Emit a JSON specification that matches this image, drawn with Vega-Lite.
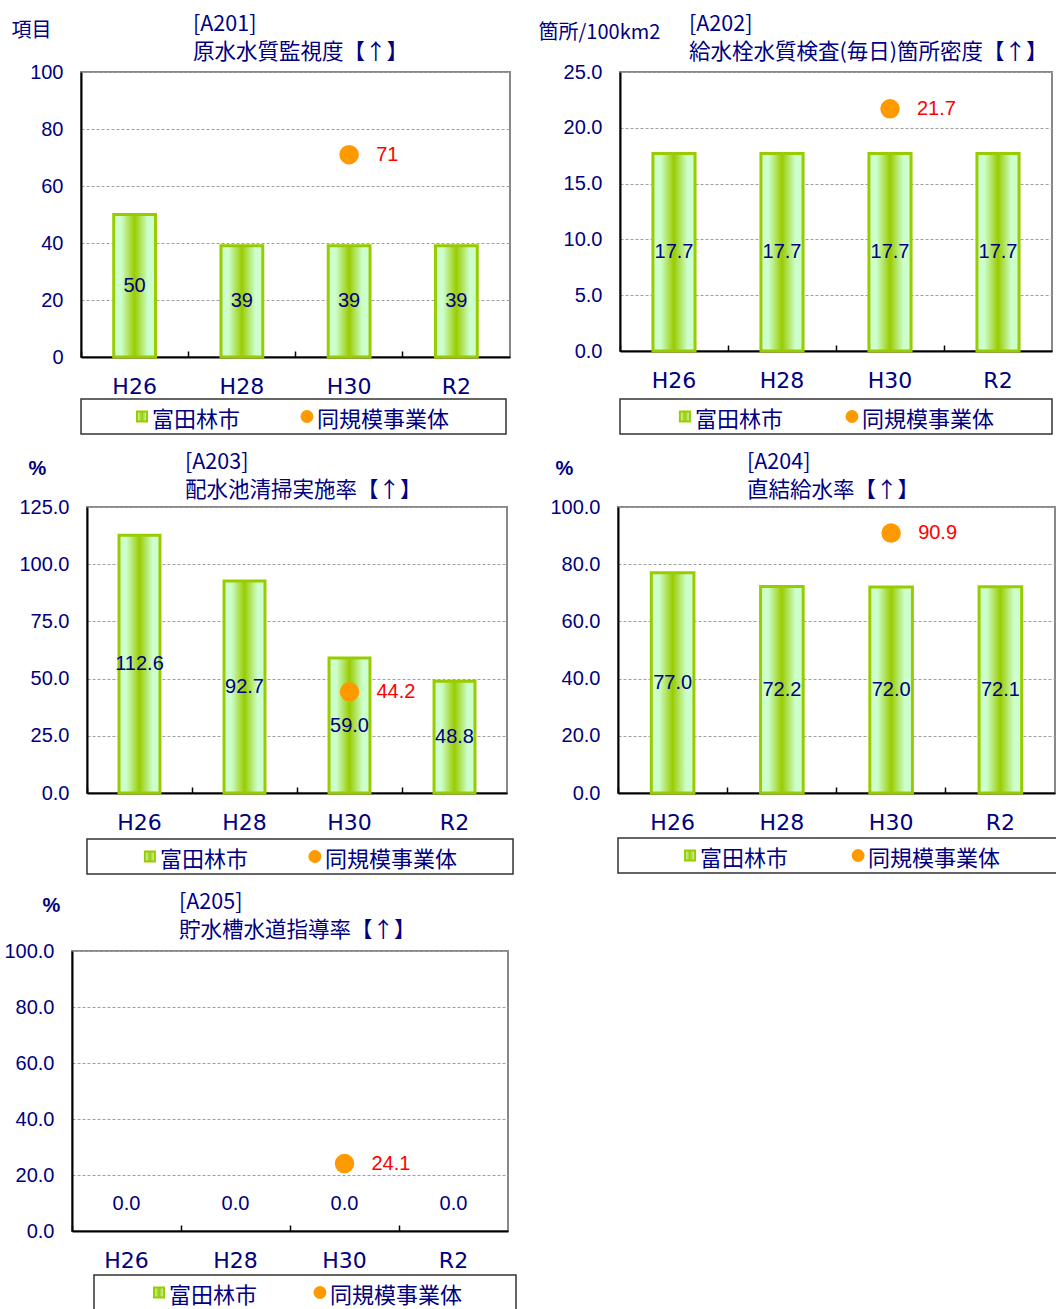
{
"$schema": "https://vega.github.io/schema/vega-lite/v6.json",
"background": "white",
"padding": {"left": 0, "top": 12, "right": 0, "bottom": 0},
"spacing": 15,
"config": {
  "view": {"stroke": "#888888", "strokeWidth": 2},
  "title": {"font": "Noto Sans CJK JP", "fontSize": 21.5, "fontWeight": "normal", "color": "#000080", "lineHeight": 28, "anchor": "start", "frame": "group"},
  "axisX": {"labelAngle": 0, "labelFont": "DejaVu Sans", "labelFontSize": 22, "labelColor": "#000080", "labelPadding": 25, "bandPosition": -0.782, "tickSize": -6, "tickColor": "#000000", "tickWidth": 1.5, "domainColor": "#000000", "domainWidth": 2, "grid": false, "titleOpacity": 0, "titleAlign": "left", "titleBaseline": "bottom", "titleFontSize": 8},
  "axisY": {"labelFont": "Liberation Sans", "labelFontSize": 20, "labelColor": "#000080", "labelPadding": 18, "ticks": false, "domainColor": "#000000", "domainWidth": 2, "grid": true, "gridColor": "#a0a0a0", "gridDash": [3, 2], "gridWidth": 1, "titleAngle": 0, "titleAlign": "left", "titleBaseline": "top", "titleFontSize": 20, "titleColor": "#000080", "titleFont": "Noto Sans CJK JP", "titleFontWeight": "normal"}
},
"vconcat": [
 {"hconcat": [
  {"width": 1, "height": 1, "data": {"values": []}, "mark": "point", "view": {"stroke": null, "fill": null}},
  {"vconcat": [
   {"width": 429, "height": 285,
    "title": {"text": ["[A201]", "原水水質監視度【↑】"], "dx": 112, "offset": -43},
    "data": {"values": [
      {"yr": "H26", "s": "富田林市", "v": 50},
      {"yr": "H28", "s": "富田林市", "v": 39},
      {"yr": "H30", "s": "富田林市", "v": 39},
      {"yr": "R2", "s": "富田林市", "v": 39},
      {"yr": "H30", "s": "同規模事業体", "v": 71}
    ]},
    "encoding": {
      "x": {"field": "yr", "type": "nominal", "scale": {"type": "band", "domain": ["H26", "H28", "H30", "R2"], "paddingInner": 0.61}, "axis": {"title": ".", "titleX": -79, "titleY": -40, "bandPosition": -0.782}},
      "y": {"field": "v", "type": "quantitative", "scale": {"domain": [0, 100], "nice": false}, "axis": {"title": "項目", "titleX": -70, "titleY": -52, "values": [0, 20, 40, 60, 80, 100], "format": "d"}}
    },
    "layer": [
      {"transform": [{"filter": "datum.s == '富田林市'"}], "mark": {"type": "bar", "stroke": "#99cc00", "strokeWidth": 3, "fill": {"gradient": "linear", "x1": 0, "x2": 1, "y1": 0, "y2": 0, "stops": [{"offset": 0, "color": "#ccffcc"}, {"offset": 0.18, "color": "#ccffcc"}, {"offset": 0.5, "color": "#99cc00"}, {"offset": 0.82, "color": "#ccffcc"}, {"offset": 1, "color": "#ccffcc"}]}}},
      {"transform": [{"filter": "datum.s == '富田林市'"}, {"calculate": "datum.v/2", "as": "mid"}], "mark": {"type": "text", "baseline": "middle", "font": "Liberation Sans", "fontSize": 20, "color": "#000080"}, "encoding": {"y": {"field": "mid", "type": "quantitative", "axis": {"title": "項目", "titleX": -70, "titleY": -52, "values": [0, 20, 40, 60, 80, 100], "format": "d"}}, "text": {"field": "v", "type": "quantitative", "format": "d"}}},
      {"transform": [{"filter": "datum.s == '同規模事業体'"}], "mark": {"type": "point", "filled": true, "size": 380, "color": "#ff9900", "opacity": 1}},
      {"transform": [{"filter": "datum.s == '同規模事業体'"}], "mark": {"type": "text", "align": "left", "dx": 27, "baseline": "middle", "font": "Liberation Sans", "fontSize": 20, "color": "#ff0000"}, "encoding": {"text": {"field": "v", "type": "quantitative", "format": "d"}}}
    ]
   },
   {"width": 425, "height": 35,
    "view": {"stroke": "#333333", "strokeWidth": 1.5},
    "data": {"values": [{"s": "富田林市"}, {"s": "同規模事業体"}]},
    "encoding": {"x": {"field": "s", "type": "nominal", "scale": {"type": "point", "domain": ["富田林市", "同規模事業体"], "padding": 0.788, "align": 0.2346}, "axis": null}},
    "layer": [
      {"transform": [{"filter": "datum.s == '富田林市'"}], "mark": {"type": "point", "shape": "square", "filled": true, "size": 100, "opacity": 1, "stroke": "#99cc00", "strokeWidth": 2, "fill": {"gradient": "linear", "x1": 0, "x2": 1, "y1": 0, "y2": 0, "stops": [{"offset": 0, "color": "#ccffcc"}, {"offset": 0.5, "color": "#99cc00"}, {"offset": 1, "color": "#ccffcc"}]}}},
      {"transform": [{"filter": "datum.s == '同規模事業体'"}], "mark": {"type": "point", "shape": "circle", "filled": true, "size": 165, "color": "#ff9900", "opacity": 1}},
      {"mark": {"type": "text", "align": "left", "dx": 10, "dy": 3, "baseline": "middle", "font": "Noto Sans CJK JP", "fontSize": 22, "color": "#000080"}, "encoding": {"text": {"field": "s"}}}
    ]
   }
  ], "spacing": 0},
  {"vconcat": [
   {"width": 432, "height": 279,
    "title": {"text": ["[A202]", "給水栓水質検査(毎日)箇所密度【↑】"], "dx": 69, "offset": -41},
    "data": {"values": [
      {"yr": "H26", "s": "富田林市", "v": 17.7},
      {"yr": "H28", "s": "富田林市", "v": 17.7},
      {"yr": "H30", "s": "富田林市", "v": 17.7},
      {"yr": "R2", "s": "富田林市", "v": 17.7},
      {"yr": "H30", "s": "同規模事業体", "v": 21.7}
    ]},
    "encoding": {
      "x": {"field": "yr", "type": "nominal", "scale": {"type": "band", "domain": ["H26", "H28", "H30", "R2"], "paddingInner": 0.61}, "axis": {"title": ".", "titleX": -108, "titleY": -40, "bandPosition": -0.782}},
      "y": {"field": "v", "type": "quantitative", "scale": {"domain": [0, 25], "nice": false}, "axis": {"title": "箇所/100km2", "titleX": -82, "titleY": -50, "values": [0, 5, 10, 15, 20, 25], "format": ".1f"}}
    },
    "layer": [
      {"transform": [{"filter": "datum.s == '富田林市'"}], "mark": {"type": "bar", "stroke": "#99cc00", "strokeWidth": 3, "fill": {"gradient": "linear", "x1": 0, "x2": 1, "y1": 0, "y2": 0, "stops": [{"offset": 0, "color": "#ccffcc"}, {"offset": 0.18, "color": "#ccffcc"}, {"offset": 0.5, "color": "#99cc00"}, {"offset": 0.82, "color": "#ccffcc"}, {"offset": 1, "color": "#ccffcc"}]}}},
      {"transform": [{"filter": "datum.s == '富田林市'"}, {"calculate": "datum.v/2", "as": "mid"}], "mark": {"type": "text", "baseline": "middle", "font": "Liberation Sans", "fontSize": 20, "color": "#000080"}, "encoding": {"y": {"field": "mid", "type": "quantitative", "axis": {"title": "箇所/100km2", "titleX": -82, "titleY": -50, "values": [0, 5, 10, 15, 20, 25], "format": ".1f"}}, "text": {"field": "v", "type": "quantitative", "format": ".1f"}}},
      {"transform": [{"filter": "datum.s == '同規模事業体'"}], "mark": {"type": "point", "filled": true, "size": 380, "color": "#ff9900", "opacity": 1}},
      {"transform": [{"filter": "datum.s == '同規模事業体'"}], "mark": {"type": "text", "align": "left", "dx": 27, "baseline": "middle", "font": "Liberation Sans", "fontSize": 20, "color": "#ff0000"}, "encoding": {"text": {"field": "v", "type": "quantitative", "format": ".1f"}}}
    ]
   },
   {"width": 432, "height": 35,
    "view": {"stroke": "#333333", "strokeWidth": 1.5},
    "data": {"values": [{"s": "富田林市"}, {"s": "同規模事業体"}]},
    "encoding": {"x": {"field": "s", "type": "nominal", "scale": {"type": "point", "domain": ["富田林市", "同規模事業体"], "padding": 0.793, "align": 0.245}, "axis": null}},
    "layer": [
      {"transform": [{"filter": "datum.s == '富田林市'"}], "mark": {"type": "point", "shape": "square", "filled": true, "size": 100, "opacity": 1, "stroke": "#99cc00", "strokeWidth": 2, "fill": {"gradient": "linear", "x1": 0, "x2": 1, "y1": 0, "y2": 0, "stops": [{"offset": 0, "color": "#ccffcc"}, {"offset": 0.5, "color": "#99cc00"}, {"offset": 1, "color": "#ccffcc"}]}}},
      {"transform": [{"filter": "datum.s == '同規模事業体'"}], "mark": {"type": "point", "shape": "circle", "filled": true, "size": 165, "color": "#ff9900", "opacity": 1}},
      {"mark": {"type": "text", "align": "left", "dx": 10, "dy": 3, "baseline": "middle", "font": "Noto Sans CJK JP", "fontSize": 22, "color": "#000080"}, "encoding": {"text": {"field": "s"}}}
    ]
   }
  ], "spacing": 6}
 ], "spacing": 0},
 {"hconcat": [
  {"width": 1, "height": 1, "data": {"values": []}, "mark": "point", "view": {"stroke": null, "fill": null}},
  {"vconcat": [
   {"width": 420, "height": 286,
    "title": {"text": ["[A203]", "配水池清掃実施率【↑】"], "dx": 98, "offset": -43},
    "data": {"values": [
      {"yr": "H26", "s": "富田林市", "v": 112.6},
      {"yr": "H28", "s": "富田林市", "v": 92.7},
      {"yr": "H30", "s": "富田林市", "v": 59.0},
      {"yr": "R2", "s": "富田林市", "v": 48.8},
      {"yr": "H30", "s": "同規模事業体", "v": 44.2}
    ]},
    "encoding": {
      "x": {"field": "yr", "type": "nominal", "scale": {"type": "band", "domain": ["H26", "H28", "H30", "R2"], "paddingInner": 0.61}, "axis": {"title": ".", "titleX": -85, "titleY": -40, "bandPosition": -0.782}},
      "y": {"field": "v", "type": "quantitative", "scale": {"domain": [0, 125], "nice": false}, "axis": {"title": "%", "titleX": -59, "titleY": -49, "titleFont": "Liberation Sans", "titleFontWeight": "bold", "values": [0, 25, 50, 75, 100, 125], "format": ".1f"}}
    },
    "layer": [
      {"transform": [{"filter": "datum.s == '富田林市'"}], "mark": {"type": "bar", "stroke": "#99cc00", "strokeWidth": 3, "fill": {"gradient": "linear", "x1": 0, "x2": 1, "y1": 0, "y2": 0, "stops": [{"offset": 0, "color": "#ccffcc"}, {"offset": 0.18, "color": "#ccffcc"}, {"offset": 0.5, "color": "#99cc00"}, {"offset": 0.82, "color": "#ccffcc"}, {"offset": 1, "color": "#ccffcc"}]}}},
      {"transform": [{"filter": "datum.s == '富田林市'"}, {"calculate": "datum.v/2", "as": "mid"}], "mark": {"type": "text", "baseline": "middle", "font": "Liberation Sans", "fontSize": 20, "color": "#000080"}, "encoding": {"y": {"field": "mid", "type": "quantitative", "axis": {"title": "%", "titleX": -59, "titleY": -49, "titleFont": "Liberation Sans", "titleFontWeight": "bold", "values": [0, 25, 50, 75, 100, 125], "format": ".1f"}}, "text": {"field": "v", "type": "quantitative", "format": ".1f"}}},
      {"transform": [{"filter": "datum.s == '同規模事業体'"}], "mark": {"type": "point", "filled": true, "size": 380, "color": "#ff9900", "opacity": 1}},
      {"transform": [{"filter": "datum.s == '同規模事業体'"}], "mark": {"type": "text", "align": "left", "dx": 27, "baseline": "middle", "font": "Liberation Sans", "fontSize": 20, "color": "#ff0000"}, "encoding": {"text": {"field": "v", "type": "quantitative", "format": ".1f"}}}
    ]
   },
   {"width": 426, "height": 35,
    "view": {"stroke": "#333333", "strokeWidth": 1.5},
    "data": {"values": [{"s": "富田林市"}, {"s": "同規模事業体"}]},
    "encoding": {"x": {"field": "s", "type": "nominal", "scale": {"type": "point", "domain": ["富田林市", "同規模事業体"], "padding": 0.791, "align": 0.241}, "axis": null}},
    "layer": [
      {"transform": [{"filter": "datum.s == '富田林市'"}], "mark": {"type": "point", "shape": "square", "filled": true, "size": 100, "opacity": 1, "stroke": "#99cc00", "strokeWidth": 2, "fill": {"gradient": "linear", "x1": 0, "x2": 1, "y1": 0, "y2": 0, "stops": [{"offset": 0, "color": "#ccffcc"}, {"offset": 0.5, "color": "#99cc00"}, {"offset": 1, "color": "#ccffcc"}]}}},
      {"transform": [{"filter": "datum.s == '同規模事業体'"}], "mark": {"type": "point", "shape": "circle", "filled": true, "size": 165, "color": "#ff9900", "opacity": 1}},
      {"mark": {"type": "text", "align": "left", "dx": 10, "dy": 3, "baseline": "middle", "font": "Noto Sans CJK JP", "fontSize": 22, "color": "#000080"}, "encoding": {"text": {"field": "s"}}}
    ]
   }
  ], "spacing": 4},
  {"vconcat": [
   {"width": 437, "height": 286,
    "title": {"text": ["[A204]", "直結給水率【↑】"], "dx": 129, "offset": -43},
    "data": {"values": [
      {"yr": "H26", "s": "富田林市", "v": 77.0},
      {"yr": "H28", "s": "富田林市", "v": 72.2},
      {"yr": "H30", "s": "富田林市", "v": 72.0},
      {"yr": "R2", "s": "富田林市", "v": 72.1},
      {"yr": "H30", "s": "同規模事業体", "v": 90.9}
    ]},
    "encoding": {
      "x": {"field": "yr", "type": "nominal", "scale": {"type": "band", "domain": ["H26", "H28", "H30", "R2"], "paddingInner": 0.61}, "axis": {"title": ".", "titleX": -103, "titleY": -40, "bandPosition": -0.782}},
      "y": {"field": "v", "type": "quantitative", "scale": {"domain": [0, 100], "nice": false}, "axis": {"title": "%", "titleX": -63, "titleY": -49, "titleFont": "Liberation Sans", "titleFontWeight": "bold", "values": [0, 20, 40, 60, 80, 100], "format": ".1f"}}
    },
    "layer": [
      {"transform": [{"filter": "datum.s == '富田林市'"}], "mark": {"type": "bar", "stroke": "#99cc00", "strokeWidth": 3, "fill": {"gradient": "linear", "x1": 0, "x2": 1, "y1": 0, "y2": 0, "stops": [{"offset": 0, "color": "#ccffcc"}, {"offset": 0.18, "color": "#ccffcc"}, {"offset": 0.5, "color": "#99cc00"}, {"offset": 0.82, "color": "#ccffcc"}, {"offset": 1, "color": "#ccffcc"}]}}},
      {"transform": [{"filter": "datum.s == '富田林市'"}, {"calculate": "datum.v/2", "as": "mid"}], "mark": {"type": "text", "baseline": "middle", "font": "Liberation Sans", "fontSize": 20, "color": "#000080"}, "encoding": {"y": {"field": "mid", "type": "quantitative", "axis": {"title": "%", "titleX": -63, "titleY": -49, "titleFont": "Liberation Sans", "titleFontWeight": "bold", "values": [0, 20, 40, 60, 80, 100], "format": ".1f"}}, "text": {"field": "v", "type": "quantitative", "format": ".1f"}}},
      {"transform": [{"filter": "datum.s == '同規模事業体'"}], "mark": {"type": "point", "filled": true, "size": 380, "color": "#ff9900", "opacity": 1}},
      {"transform": [{"filter": "datum.s == '同規模事業体'"}], "mark": {"type": "text", "align": "left", "dx": 27, "baseline": "middle", "font": "Liberation Sans", "fontSize": 20, "color": "#ff0000"}, "encoding": {"text": {"field": "v", "type": "quantitative", "format": ".1f"}}}
    ]
   },
   {"width": 442, "height": 35,
    "view": {"stroke": "#333333", "strokeWidth": 1.5},
    "data": {"values": [{"s": "富田林市"}, {"s": "同規模事業体"}]},
    "encoding": {"x": {"field": "s", "type": "nominal", "scale": {"type": "point", "domain": ["富田林市", "同規模事業体"], "padding": 0.815, "align": 0.263}, "axis": null}},
    "layer": [
      {"transform": [{"filter": "datum.s == '富田林市'"}], "mark": {"type": "point", "shape": "square", "filled": true, "size": 100, "opacity": 1, "stroke": "#99cc00", "strokeWidth": 2, "fill": {"gradient": "linear", "x1": 0, "x2": 1, "y1": 0, "y2": 0, "stops": [{"offset": 0, "color": "#ccffcc"}, {"offset": 0.5, "color": "#99cc00"}, {"offset": 1, "color": "#ccffcc"}]}}},
      {"transform": [{"filter": "datum.s == '同規模事業体'"}], "mark": {"type": "point", "shape": "circle", "filled": true, "size": 165, "color": "#ff9900", "opacity": 1}},
      {"mark": {"type": "text", "align": "left", "dx": 10, "dy": 3, "baseline": "middle", "font": "Noto Sans CJK JP", "fontSize": 22, "color": "#000080"}, "encoding": {"text": {"field": "s"}}}
    ]
   }
  ], "spacing": 3}
 ], "spacing": 0},
 {"hconcat": [
  {"width": 1, "height": 1, "data": {"values": []}, "mark": "point", "view": {"stroke": null, "fill": null}},
  {"vconcat": [
   {"width": 436, "height": 280,
    "title": {"text": ["[A205]", "貯水槽水道指導率【↑】"], "dx": 107, "offset": -46},
    "data": {"values": [
      {"yr": "H26", "s": "富田林市", "v": 0.0},
      {"yr": "H28", "s": "富田林市", "v": 0.0},
      {"yr": "H30", "s": "富田林市", "v": 0.0},
      {"yr": "R2", "s": "富田林市", "v": 0.0},
      {"yr": "H30", "s": "同規模事業体", "v": 24.1}
    ]},
    "encoding": {
      "x": {"field": "yr", "type": "nominal", "scale": {"type": "band", "domain": ["H26", "H28", "H30", "R2"], "paddingInner": 0.61}, "axis": {"title": ".", "titleX": -70, "titleY": -40, "bandPosition": -0.782}},
      "y": {"field": "v", "type": "quantitative", "scale": {"domain": [0, 100], "nice": false}, "axis": {"title": "%", "titleX": -30, "titleY": -56, "titleFont": "Liberation Sans", "titleFontWeight": "bold", "values": [0, 20, 40, 60, 80, 100], "format": ".1f"}}
    },
    "layer": [
      {"transform": [{"filter": "datum.s == '富田林市'"}], "mark": {"type": "text", "baseline": "middle", "dy": -27, "font": "Liberation Sans", "fontSize": 20, "color": "#000080"}, "encoding": {"text": {"field": "v", "type": "quantitative", "format": ".1f"}}},
      {"transform": [{"filter": "datum.s == '同規模事業体'"}], "mark": {"type": "point", "filled": true, "size": 380, "color": "#ff9900", "opacity": 1}},
      {"transform": [{"filter": "datum.s == '同規模事業体'"}], "mark": {"type": "text", "align": "left", "dx": 27, "baseline": "middle", "font": "Liberation Sans", "fontSize": 20, "color": "#ff0000"}, "encoding": {"text": {"field": "v", "type": "quantitative", "format": ".1f"}}}
    ]
   },
   {"hconcat": [
    {"width": 21, "height": 35, "data": {"values": []}, "mark": "point", "view": {"stroke": null, "fill": null}},
    {"width": 422, "height": 35,
     "view": {"stroke": "#333333", "strokeWidth": 1.5},
     "data": {"values": [{"s": "富田林市"}, {"s": "同規模事業体"}]},
     "encoding": {"x": {"field": "s", "type": "nominal", "scale": {"type": "point", "domain": ["富田林市", "同規模事業体"], "padding": 0.811, "align": 0.249}, "axis": null}},
     "layer": [
       {"transform": [{"filter": "datum.s == '富田林市'"}], "mark": {"type": "point", "shape": "square", "filled": true, "size": 100, "opacity": 1, "stroke": "#99cc00", "strokeWidth": 2, "fill": {"gradient": "linear", "x1": 0, "x2": 1, "y1": 0, "y2": 0, "stops": [{"offset": 0, "color": "#ccffcc"}, {"offset": 0.5, "color": "#99cc00"}, {"offset": 1, "color": "#ccffcc"}]}}},
       {"transform": [{"filter": "datum.s == '同規模事業体'"}], "mark": {"type": "point", "shape": "circle", "filled": true, "size": 165, "color": "#ff9900", "opacity": 1}},
       {"mark": {"type": "text", "align": "left", "dx": 10, "dy": 3, "baseline": "middle", "font": "Noto Sans CJK JP", "fontSize": 22, "color": "#000080"}, "encoding": {"text": {"field": "s"}}}
     ]
    }
   ], "spacing": 0}
  ], "spacing": 2}
 ], "spacing": 0}
]
}
